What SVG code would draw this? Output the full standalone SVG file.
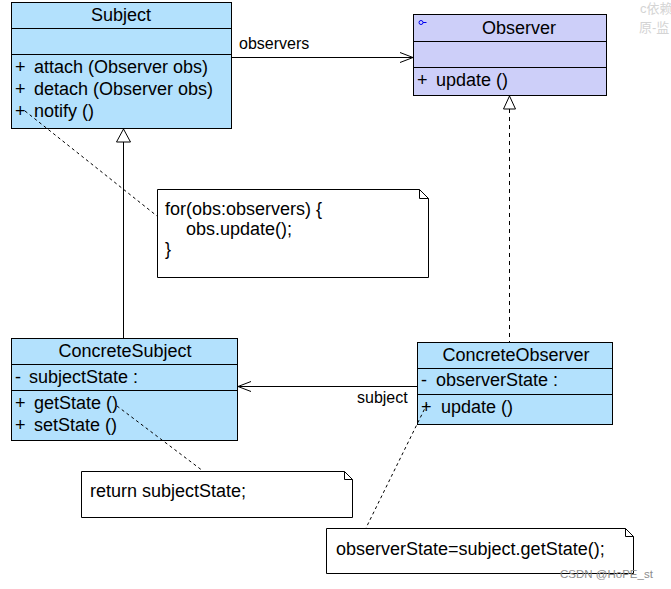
<svg xmlns="http://www.w3.org/2000/svg" width="671" height="589" viewBox="0 0 671 589">
<style>
text{font-family:"Liberation Sans",Arial,sans-serif;font-size:18px;fill:#000}
.t{text-anchor:middle}
.cls{fill:#b3e1fd;stroke:#000;stroke-width:1}
.ifc{fill:#cdcff9;stroke:#000;stroke-width:1}
.sep{stroke:#000;stroke-width:1}
.note{fill:#fff;stroke:#000;stroke-width:1}
.ln{fill:none;stroke:#000;stroke-width:1}
.dash{fill:none;stroke:#000;stroke-width:1;stroke-dasharray:4,4}
.dot{fill:none;stroke:#000;stroke-width:1;stroke-dasharray:3,3}
.wm{font-size:11.5px;fill:#8c8c8c}
.faint{font-family:"Liberation Sans","Noto Sans CJK SC",sans-serif;font-size:13px;fill:#d4d4d4}
</style>
<defs>
<marker id="open" markerWidth="16" markerHeight="12" refX="14" refY="6" orient="auto" markerUnits="userSpaceOnUse">
<path d="M1,1 L14,6 L1,11" fill="none" stroke="#000" stroke-width="1"/>
</marker>
</defs>
<rect width="671" height="589" fill="#fff"/>
<text class="faint" x="640" y="13">c依赖</text>
<text class="faint" x="639" y="32">原-监</text>

<g id="Subject">
<rect class="cls" x="11.5" y="2.5" width="220" height="126"/>
<line class="sep" x1="11.5" y1="28.5" x2="231.5" y2="28.5"/>
<line class="sep" x1="11.5" y1="54.5" x2="231.5" y2="54.5"/>
<text class="t" x="121" y="21">Subject</text>
<text x="15" y="73">+</text><text x="34" y="73">attach (Observer obs)</text>
<text x="15" y="95">+</text><text x="34" y="95">detach (Observer obs)</text>
<text x="15" y="117">+</text><text x="34" y="117">notify ()</text>
</g>

<g id="Observer">
<rect class="ifc" x="413.5" y="14.5" width="193" height="81"/>
<line class="sep" x1="413.5" y1="41.5" x2="606.5" y2="41.5"/>
<line class="sep" x1="413.5" y1="67.5" x2="606.5" y2="67.5"/>
<circle cx="421" cy="22.5" r="2" fill="none" stroke="#0000ee" stroke-width="1"/>
<line x1="423" y1="22.5" x2="426.5" y2="22.5" stroke="#0000ee" stroke-width="1"/>
<text class="t" x="519" y="34">Observer</text>
<text x="417" y="86">+</text><text x="436" y="86">update ()</text>
</g>

<g id="Note1">
<path class="note" d="M157.5,189.5 H419.5 L428.5,198.5 V277.5 H157.5 Z"/>
<path class="ln" d="M419.5,189.5 V198.5 H428.5"/>
<text x="165" y="215">for(obs:observers) {</text>
<text x="186" y="235">obs.update();</text>
<text x="165" y="255">}</text>
</g>

<g id="ConcreteSubject">
<rect class="cls" x="11.5" y="338.5" width="226" height="102"/>
<line class="sep" x1="11.5" y1="364.5" x2="237.5" y2="364.5"/>
<line class="sep" x1="11.5" y1="390.5" x2="237.5" y2="390.5"/>
<text class="t" x="125" y="357">ConcreteSubject</text>
<text x="15" y="383">-</text><text x="29" y="383">subjectState  :</text>
<text x="15" y="409">+</text><text x="34" y="409">getState ()</text>
<text x="15" y="431">+</text><text x="34" y="431">setState ()</text>
</g>

<g id="ConcreteObserver">
<rect class="cls" x="417.5" y="342.5" width="195" height="82"/>
<line class="sep" x1="417.5" y1="368.5" x2="612.5" y2="368.5"/>
<line class="sep" x1="417.5" y1="394.5" x2="612.5" y2="394.5"/>
<text class="t" x="516" y="361">ConcreteObserver</text>
<text x="421" y="386">-</text><text x="436" y="386">observerState  :</text>
<text x="421" y="413">+</text><text x="441" y="413">update ()</text>
</g>

<g id="Note2">
<path class="note" d="M81.5,471.5 H344.5 L352.5,479.5 V517.5 H81.5 Z"/>
<path class="ln" d="M344.5,471.5 V479.5 H352.5"/>
<text x="90" y="497">return subjectState;</text>
</g>

<g id="Note3">
<path class="note" d="M326.5,528.5 H625.5 L633.5,536.5 V573.5 H326.5 Z"/>
<path class="ln" d="M625.5,528.5 V536.5 H633.5"/>
<text x="336" y="555">observerState=subject.getState();</text>
</g>

<g id="connectors">
<line class="ln" x1="232" y1="57.5" x2="413" y2="57.5" marker-end="url(#open)"/>
<text x="239" y="49" style="font-size:16px">observers</text>
<line class="ln" x1="123.5" y1="142" x2="123.5" y2="338"/>
<polygon points="123.5,129 116.5,142 130.5,142" fill="#fff" stroke="#000" stroke-width="1"/>
<line class="dash" x1="509.5" y1="109" x2="509.5" y2="342"/>
<polygon points="509.5,96 503.5,109 515.5,109" fill="#fff" stroke="#000" stroke-width="1"/>
<line class="ln" x1="417" y1="386.5" x2="238" y2="386.5" marker-end="url(#open)"/>
<text x="357" y="403" style="font-size:16px">subject</text>
<line class="dot" x1="25" y1="111" x2="157" y2="216"/>
<line class="dot" x1="117" y1="406" x2="203" y2="471"/>
<line class="dot" x1="427" y1="404" x2="366" y2="528"/>
</g>
<text class="wm" x="560" y="578">CSDN @HoPE_st</text>
</svg>
